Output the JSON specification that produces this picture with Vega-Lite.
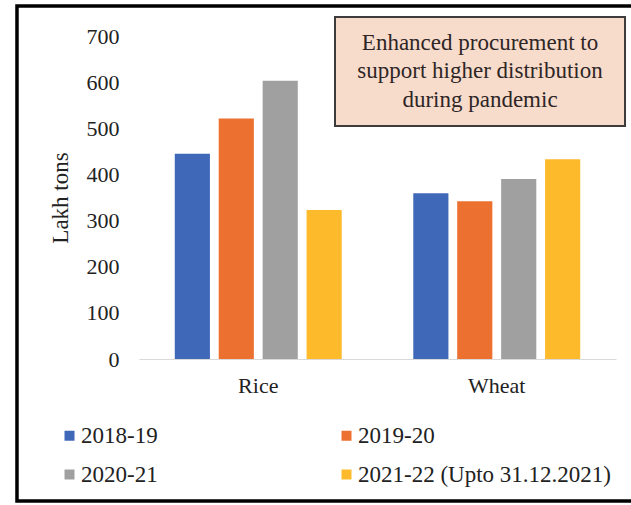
{
  "$schema": "https://vega.github.io/schema/vega-lite/v6.json",
  "width": 477,
  "height": 323,
  "autosize": {"type": "none"},
  "padding": {"left": 139, "top": 36, "right": 15, "bottom": 146},
  "background": "white",
  "config": {
    "font": "Liberation Serif",
    "view": {"stroke": null},
    "axis": {"labelFont": "Liberation Serif", "titleFont": "Liberation Serif", "labelColor": "#222222", "titleColor": "#222222"},
    "legend": {"labelFont": "Liberation Serif"}
  },
  "layer": [
    {
      "data": {
        "values": [
          {"crop": "Rice", "year": "2018-19", "value": 445},
          {"crop": "Rice", "year": "2019-20", "value": 521},
          {"crop": "Rice", "year": "2020-21", "value": 603},
          {"crop": "Rice", "year": "2021-22 (Upto 31.12.2021)", "value": 323},
          {"crop": "Wheat", "year": "2018-19", "value": 359},
          {"crop": "Wheat", "year": "2019-20", "value": 342},
          {"crop": "Wheat", "year": "2020-21", "value": 390},
          {"crop": "Wheat", "year": "2021-22 (Upto 31.12.2021)", "value": 433}
        ]
      },
      "mark": {"type": "bar"},
      "encoding": {
        "x": {
          "field": "crop", "type": "nominal",
          "scale": {"paddingInner": 0.3, "paddingOuter": 0.15},
          "axis": {"title": null, "labelAngle": 0, "labelFontSize": 22, "labelPadding": 16, "ticks": false, "domainColor": "#d9d9d9", "domainWidth": 1.2}
        },
        "xOffset": {
          "field": "year", "type": "nominal",
          "sort": ["2018-19", "2019-20", "2020-21", "2021-22 (Upto 31.12.2021)"],
          "scale": {"paddingInner": 0.2, "paddingOuter": 0}
        },
        "y": {
          "field": "value", "type": "quantitative",
          "scale": {"domain": [0, 700], "nice": false},
          "axis": {"title": "Lakh tons", "titleFontSize": 23, "titleFontWeight": "normal", "titlePadding": 14, "labelFontSize": 22, "labelPadding": 20, "ticks": false, "domain": false, "grid": false, "values": [0, 100, 200, 300, 400, 500, 600, 700]}
        },
        "color": {
          "field": "year", "type": "nominal",
          "scale": {
            "domain": ["2018-19", "2019-20", "2020-21", "2021-22 (Upto 31.12.2021)"],
            "range": ["#3F69B8", "#EC7030", "#A0A0A0", "#FDBA2A"]
          },
          "legend": {
            "title": null, "orient": "none", "legendX": -81, "legendY": 388,
            "direction": "horizontal", "columns": 2, "columnPadding": 177, "rowPadding": 15,
            "symbolType": "square", "symbolSize": 100, "symbolStrokeWidth": 0,
            "labelFont": "Liberation Serif",
            "labelFontSize": 23, "labelOffset": 0, "labelColor": "#222222", "labelLimit": 400
          }
        }
      }
    },
    {
      "data": {"values": [{"note": "annotation"}]},
      "layer": [
        {
          "mark": {"type": "rect", "fill": null, "fillOpacity": 0, "stroke": "#000000", "strokeWidth": 3.5},
          "encoding": {
            "x": {"datum": -0.2558, "type": "quantitative", "scale": {"domain": [0, 1], "nice": false, "zero": false}, "axis": null},
            "x2": {"datum": 1.1},
            "y": {"datum": 765, "type": "quantitative"},
            "y2": {"datum": -307.7}
          }
        },
        {
          "mark": {"type": "rect", "fill": "#F8DCCB", "stroke": "#3c3c3c", "strokeWidth": 2},
          "encoding": {
            "x": {"datum": 0.4109, "type": "quantitative", "scale": {"domain": [0, 1], "nice": false, "zero": false}, "axis": null},
            "x2": {"datum": 1.0189},
            "y": {"datum": 741.2, "type": "quantitative"},
            "y2": {"datum": 505}
          }
        },
        {
          "mark": {
            "type": "text",
            "text": ["Enhanced procurement to", "support higher distribution", "during pandemic"],
            "font": "Liberation Serif", "fontSize": 23, "lineHeight": 28.5,
            "align": "center", "baseline": "middle", "color": "#2e2626"
          },
          "encoding": {
            "x": {"datum": 0.7149, "type": "quantitative", "scale": {"domain": [0, 1], "nice": false, "zero": false}, "axis": null},
            "y": {"datum": 685, "type": "quantitative"}
          }
        }
      ]
    }
  ],
  "resolve": {"scale": {"x": "independent"}}
}
